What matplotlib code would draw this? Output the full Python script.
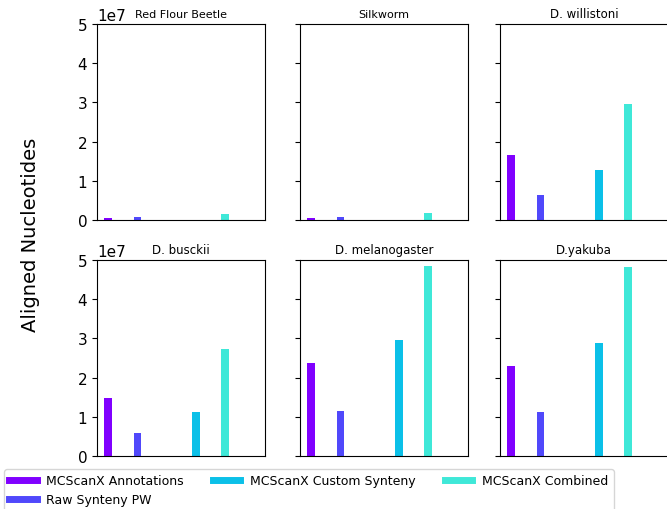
import matplotlib
matplotlib.use("Agg")
import matplotlib.pyplot as plt
from matplotlib.lines import Line2D

species = ["Red Flour Beetle", "Silkworm", "D. willistoni",
           "D. busckii", "D. melanogaster", "D.yakuba"]
series = ["MCScanX Annotations", "Raw Synteny PW", "", "MCScanX Custom Synteny",
          "MCScanX Combined", ""]
colors = ["#8000ff", "#5048fb", "#1a2a40", "#0bc0e8", "#3fe8d8", "#1a2a40"]

annotations = [0.06e7, 0.06e7, 1.65e7, 1.48e7, 2.38e7, 2.30e7]
raw_pw = [0.08e7, 0.07e7, 0.65e7, 0.59e7, 1.16e7, 1.12e7]
custom = [0.0, 0.0, 1.28e7, 1.12e7, 2.97e7, 2.88e7]
combined = [0.16e7, 0.17e7, 2.97e7, 2.73e7, 4.85e7, 4.82e7]
empty = [0, 0, 0, 0, 0, 0]

W, H = 667, 510
fig = plt.figure(figsize=(W / 100, H / 100), dpi=100)

lefts = [97, 300, 500]
tops = [25, 261]
aw, ah = 168, 196

data = [annotations, raw_pw, empty, custom, combined, empty]
axes = []
for i, sp in enumerate(species):
    r, c = divmod(i, 3)
    ax = fig.add_axes([lefts[c] / W, 1 - (tops[r] + ah) / H, aw / W, ah / H])
    vals = [d[i] for d in data]
    x = list(range(len(vals)))
    ax.bar(x, vals, width=0.27, color=colors, linewidth=0)
    ax.set_ylim(0, 5e7)
    ax.set_xlim(-0.38, 5.35)
    ax.set_xticks([])
    ax.set_yticks([0, 1e7, 2e7, 3e7, 4e7, 5e7])
    ax.tick_params(axis="y", labelsize=11)
    if c != 0:
        ax.tick_params(axis="y", labelleft=False)
        ax.yaxis.get_offset_text().set_visible(False)
    else:
        ax.yaxis.get_offset_text().set_fontsize(11)
    ax.set_title(sp, fontsize=8 if r == 0 and c < 2 else 8.5, pad=5)
    if c == 2:
        ax.spines["right"].set_visible(False)
    axes.append(ax)

fig.text(30 / W, 0.54, "Aligned Nucleotides", rotation=90, fontsize=14,
         ha="center", va="center")

handles = [Line2D([0], [0], color=colors[0], lw=5),
           Line2D([0], [0], color=colors[1], lw=5),
           Line2D([0], [0], color=colors[3], lw=5),
           Line2D([0], [0], color=colors[4], lw=5)]
labels = [series[0], series[1], series[3], series[4]]
fig.legend(handles, labels, loc="upper left", bbox_to_anchor=(4 / W, 1 - 470 / H),
           ncol=3, fontsize=9, frameon=True, borderaxespad=0,
           columnspacing=2.3, handlelength=2.2)

fig.savefig("out.png", dpi=100)
